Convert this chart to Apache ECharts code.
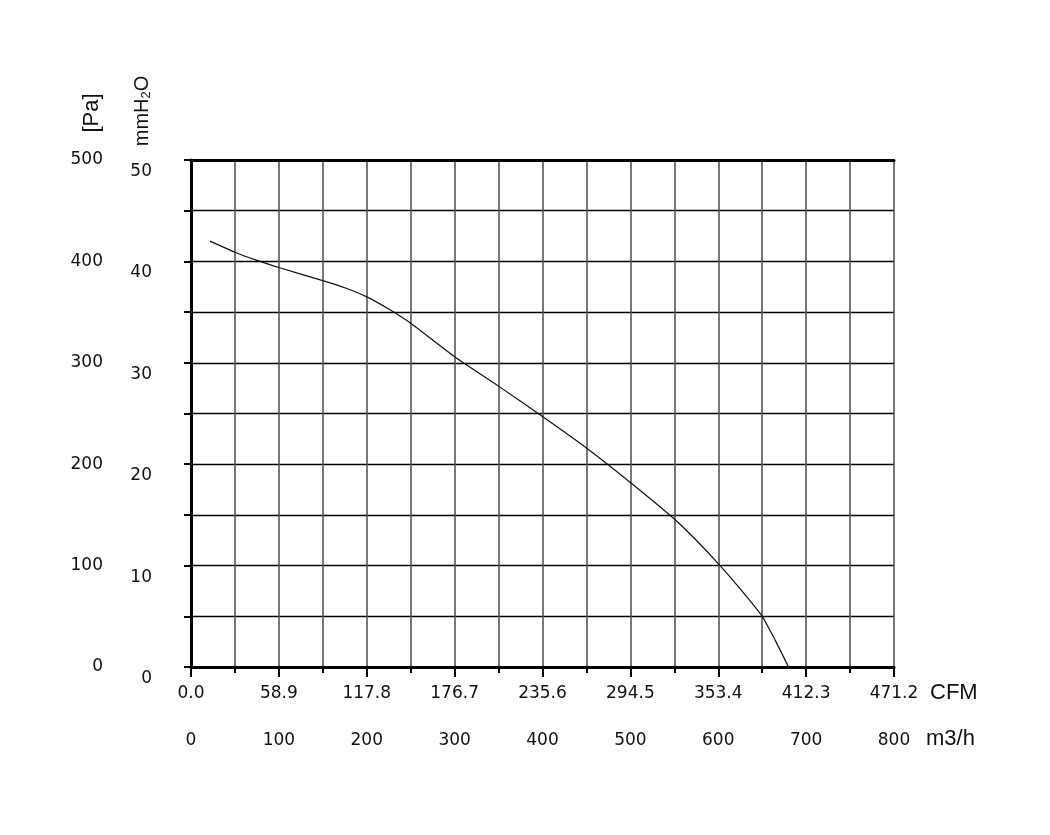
<!DOCTYPE html>
<html><head><meta charset="utf-8">
<script src="https://cdn.jsdelivr.net/npm/echarts@6/dist/echarts.min.js"></script>
<style>html,body{margin:0;padding:0;background:#fff}#c{width:1050px;height:835px}</style>
</head><body><div id="c"></div>
<script>
// Airflow in m3/h and static pressure in Pa
const flowM3h = [21.6, 50, 75, 100, 150, 175, 200, 225, 250, 300, 350, 400, 450, 500, 550, 575, 600, 625, 650, 665, 680];
const pressurePa = [420, 409, 401, 394, 381, 374, 365, 353, 339, 306, 277, 247, 216, 182, 146, 125, 102, 77, 50, 26, 0];
const m3hTicks = [0, 100, 200, 300, 400, 500, 600, 700, 800];
const cfmTicks = ['0.0', '58.9', '117.8', '176.7', '235.6', '294.5', '353.4', '412.3', '471.2'];
const paTicks = [0, 100, 200, 300, 400, 500];
const mmTicks = [0, 10, 20, 30, 40, 50];

const numFont = 'DejaVu Sans';
const chart = echarts.init(document.getElementById('c'), null, {renderer: 'canvas'});
const option = {
  backgroundColor: '#fff',
  animation: false,
  grid: {left: 191, right: 156, top: 160, bottom: 168},
  xAxis: [
    {
      type: 'value', min: 0, max: 800, interval: 100, position: 'bottom',
      axisLine: {show: true, onZero: false, lineStyle: {color: '#000', width: 3}},
      axisTick: {show: true, length: 10, lineStyle: {color: '#000', width: 2}},
      minorTick: {show: true, splitNumber: 2, length: 6, lineStyle: {color: '#000', width: 2}},
      splitLine: {show: true, lineStyle: {color: '#5a5550', width: 1.6}},
      minorSplitLine: {show: true, lineStyle: {color: '#5a5550', width: 1.6}},
      axisLabel: {margin: 65, color: '#111', fontFamily: numFont, fontSize: 17,
        formatter: v => m3hTicks.indexOf(v) >= 0 ? String(v) : ''}
    },
    {
      type: 'value', min: 0, max: 800, interval: 100, position: 'bottom',
      axisLine: {show: false}, axisTick: {show: false}, splitLine: {show: false},
      axisLabel: {margin: 18, color: '#111', fontFamily: numFont, fontSize: 17,
        formatter: v => cfmTicks[m3hTicks.indexOf(v)]}
    },
    {
      type: 'value', min: 0, max: 800, position: 'top',
      axisLine: {show: true, onZero: false, lineStyle: {color: '#000', width: 3}},
      axisTick: {show: false}, axisLabel: {show: false}, splitLine: {show: false}
    }
  ],
  yAxis: [
    {
      type: 'value', min: 0, max: 500, interval: 100, position: 'left',
      axisLine: {show: true, onZero: false, lineStyle: {color: '#000', width: 3}},
      axisTick: {show: true, length: 7, lineStyle: {color: '#000', width: 2}},
      minorTick: {show: true, splitNumber: 2, length: 7, lineStyle: {color: '#000', width: 2}},
      splitLine: {show: true, lineStyle: {color: '#000', width: 1.3}},
      minorSplitLine: {show: true, lineStyle: {color: '#000', width: 1.3}},
      axisLabel: {margin: 88, color: '#111', fontFamily: numFont, fontSize: 17,
        formatter: v => paTicks.indexOf(v) >= 0 ? String(v) : ''}
    },
    {
      type: 'value', min: 0, max: 50, interval: 10, position: 'left',
      axisLine: {show: false}, axisTick: {show: false}, splitLine: {show: false},
      axisLabel: {margin: 39, color: '#111', fontFamily: numFont, fontSize: 17, verticalAlign: 'top',
        padding: [3, 0, 0, 0],
        formatter: v => mmTicks.indexOf(v) >= 0 ? String(v) : ''}
    }
  ],
  series: [{
    type: 'line', xAxisIndex: 0, yAxisIndex: 0,
    data: flowM3h.map((x, i) => [x, pressurePa[i]]),
    showSymbol: false, smooth: 0.2,
    lineStyle: {color: '#111', width: 1.2}
  }],
  graphic: [
    {type: 'text', x: 92, y: 113, rotation: Math.PI / 2,
      style: {text: '[Pa]', fontFamily: 'Liberation Sans', fontSize: 22, fill: '#111', align: 'center', verticalAlign: 'middle'}},
    {type: 'text', x: 142, y: 111, rotation: Math.PI / 2,
      style: {text: '{a|mmH}{b|2}{a|O}', align: 'center', verticalAlign: 'middle',
        rich: {a: {fontFamily: 'Liberation Sans', fontSize: 20, fill: '#111', color: '#111'},
               b: {fontFamily: 'Liberation Sans', fontSize: 13, fill: '#111', color: '#111', padding: [8, 0, 0, 0]}}}},
    {type: 'text', x: 930, y: 693,
      style: {text: 'CFM', fontFamily: 'Liberation Sans', fontSize: 22, fill: '#111', align: 'left', verticalAlign: 'middle'}},
    {type: 'text', x: 926, y: 739,
      style: {text: 'm3/h', fontFamily: 'Liberation Sans', fontSize: 22, fill: '#111', align: 'left', verticalAlign: 'middle'}}
  ]
};
chart.setOption(option);
</script></body></html>
